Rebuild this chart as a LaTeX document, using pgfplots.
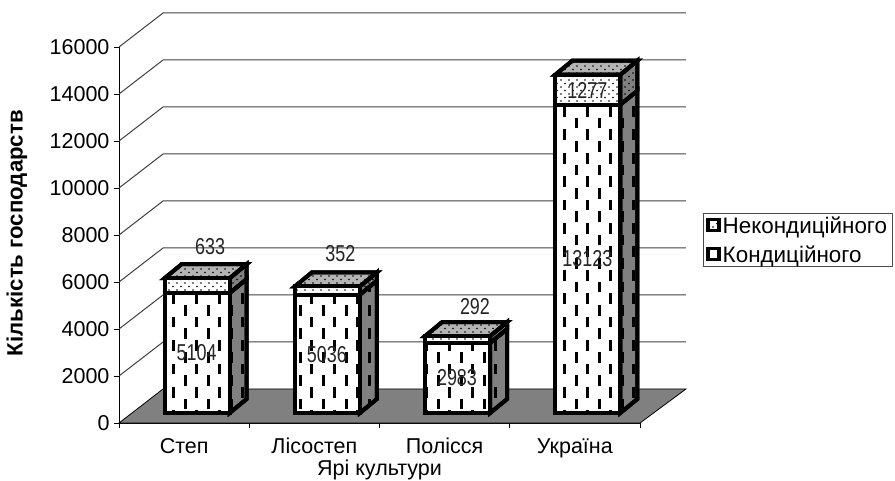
\documentclass[border=0pt]{standalone}
\usepackage{fontspec}
\usepackage{pgfplots}
\pgfplotsset{compat=1.18}
\usetikzlibrary{patterns}
\setmainfont{Liberation Sans}
\newfontfamily\narrowf[FakeStretch=0.78]{Liberation Sans}
\pgfdeclarepatternformonly{dashfront}{\pgfqpoint{-2pt}{-1pt}}{\pgfqpoint{24pt}{24pt}}{\pgfqpoint{23pt}{23.4pt}}{
  \pgfsetlinewidth{3pt}
  \pgfpathmoveto{\pgfqpoint{1pt}{0.5pt}}\pgfpathlineto{\pgfqpoint{1pt}{11.2pt}}
  \pgfpathmoveto{\pgfqpoint{12.5pt}{12.2pt}}\pgfpathlineto{\pgfqpoint{12.5pt}{22.9pt}}
  \pgfusepath{stroke}}
\pgfdeclarepatternformonly{dotsp}{\pgfqpoint{-1pt}{-1pt}}{\pgfqpoint{9pt}{9pt}}{\pgfqpoint{8pt}{7pt}}{
  \pgfpathcircle{\pgfqpoint{1pt}{1pt}}{0.8pt}
  \pgfpathcircle{\pgfqpoint{5pt}{4.5pt}}{0.8pt}
  \pgfusepath{fill}}
\definecolor{fl}{HTML}{808080}
\definecolor{tp}{HTML}{B4B4B4}
\newcommand\fs{\fontsize{21.5}{25}\selectfont}
\begin{document}
\begin{tikzpicture}
\path[use as bounding box] (0,0) rectangle (895pt,480pt);
\begin{axis}[
  at={(119pt,57pt)}, anchor=origin, scale only axis, width=521pt, height=376pt,
  xmin=0, xmax=4, ymin=0, ymax=16000, clip=false,
  axis x line=bottom, axis y line=left, axis line style={-,black,line width=0.8pt},
  xtick={0,1,2,3,4}, xticklabels={,,,,},
  extra x ticks={0.5,1.5,2.5,3.5},
  extra x tick labels={Степ,Лісостеп,Полісся,Україна},
  extra x tick style={major tick length=0pt, tick style={draw=none}},
  ytick={0,2000,...,16000}, scaled y ticks=false,
  tick align=outside, major tick length=5pt,
  tick style={black,line width=0.8pt},
  /pgf/number format/assume math mode=true,
  /pgf/number format/1000 sep={},
  tick label style={font=\fs},
  xticklabel style={yshift=-11pt, text height=15.5pt, text depth=4.5pt},
  yticklabel style={xshift=-1pt},
  xlabel={Ярі культури}, xlabel style={font=\fs, at={(axis description cs:0.5,0)}, anchor=north, yshift=-37pt, inner sep=0pt},
  ylabel={\textbf{Кількість господарств}}, ylabel style={font=\fontsize{22.2}{26}\selectfont, at={(axis description cs:-0.196,0.505)}, anchor=center, inner sep=0pt},
  legend style={at={(1.121,0.4867)}, anchor=west, draw=black!70, font=\fontsize{22.4}{26}\selectfont, inner xsep=3pt, inner ysep=1pt, row sep=7pt, cells={anchor=west}},
  legend cell align=left,
]
% floor
\addplot[fill=fl, draw=black, line width=0.8pt, forget plot] coordinates {(0,0)(4,0)(4.353,1447)(0.338,1447)} -- cycle;
% walls and gridlines
\addplot[black!75, line width=1pt, forget plot] coordinates {(0,2000)(0.338,3447)(4.353,3447)};
\addplot[black!75, line width=1pt, forget plot] coordinates {(0,4000)(0.338,5447)(4.353,5447)};
\addplot[black!75, line width=1pt, forget plot] coordinates {(0,6000)(0.338,7447)(4.353,7447)};
\addplot[black!75, line width=1pt, forget plot] coordinates {(0,8000)(0.338,9447)(4.353,9447)};
\addplot[black!75, line width=1pt, forget plot] coordinates {(0,10000)(0.338,11447)(4.353,11447)};
\addplot[black!75, line width=1pt, forget plot] coordinates {(0,12000)(0.338,13447)(4.353,13447)};
\addplot[black!75, line width=1pt, forget plot] coordinates {(0,14000)(0.338,15447)(4.353,15447)};
\addplot[black!75, line width=1pt, forget plot] coordinates {(0,16000)(0.338,17447)(4.353,17447)};
% sides, lower
\pgfplotsset{
  sidelow/.style={forget plot, draw=black, line width=4pt, line join=miter, preaction={fill=fl}, pattern=dashfront},
  sideup/.style={forget plot, draw=black, line width=4pt, line join=miter, preaction={fill=fl}, pattern=dotsp},
  topf/.style={forget plot, draw=black, line width=4pt, line join=miter, preaction={fill=tp}, pattern=dotsp},
}
\addplot[sidelow] coordinates {(0.849,425.5)(0.98,1021.5)(0.98,6125.5)(0.849,5529.5)} -- cycle;
\addplot[sideup] coordinates {(0.849,5529.5)(0.98,6125.5)(0.98,6758.5)(0.849,6162.5)} -- cycle;
\addplot[topf] coordinates {(0.3505,6162.5)(0.849,6162.5)(0.98,6758.5)(0.481,6758.5)} -- cycle;
\addplot[sidelow] coordinates {(1.849,425.5)(1.98,1021.5)(1.98,6057.5)(1.849,5461.5)} -- cycle;
\addplot[sideup] coordinates {(1.849,5461.5)(1.98,6057.5)(1.98,6409.5)(1.849,5813.5)} -- cycle;
\addplot[topf] coordinates {(1.3505,5813.5)(1.849,5813.5)(1.98,6409.5)(1.481,6409.5)} -- cycle;
\addplot[sidelow] coordinates {(2.849,425.5)(2.98,1021.5)(2.98,4004.5)(2.849,3408.5)} -- cycle;
\addplot[sideup] coordinates {(2.849,3408.5)(2.98,4004.5)(2.98,4296.5)(2.849,3700.5)} -- cycle;
\addplot[topf] coordinates {(2.3505,3700.5)(2.849,3700.5)(2.98,4296.5)(2.481,4296.5)} -- cycle;
\addplot[sidelow] coordinates {(3.849,425.5)(3.98,1021.5)(3.98,14144.5)(3.849,13548.5)} -- cycle;
\addplot[sideup] coordinates {(3.849,13548.5)(3.98,14144.5)(3.98,15421.5)(3.849,14825.5)} -- cycle;
\addplot[topf] coordinates {(3.3505,14825.5)(3.849,14825.5)(3.98,15421.5)(3.481,15421.5)} -- cycle;
% legend
\addlegendimage{area legend, legend image code/.code={\draw[black,line width=3.5pt,preaction={fill=white},pattern=dotsp] (0.5pt,-5pt) rectangle (11.5pt,6pt);}}
\addlegendentry{Некондиційного}
\addlegendimage{area legend, legend image code/.code={\draw[black,line width=3.5pt,fill=white] (0.5pt,-5pt) rectangle (11.5pt,6pt);}}
\addlegendentry{Кондиційного}
\end{axis}
\begin{axis}[
  at={(119pt,67pt)}, anchor=origin, scale only axis, width=521pt, height=376pt,
  xmin=0, xmax=4, ymin=0, ymax=16000, clip=false, hide axis,
  ybar stacked, bar width=65pt, bar shift=13pt,
]
\addplot[draw=black, line width=4pt, line join=miter, preaction={fill=white}, pattern=dashfront]
  coordinates {(0.5,5104)(1.5,5036)(2.5,2983)(3.5,13123)};
\addplot[draw=black, line width=4pt, line join=miter, preaction={fill=white}, pattern=dotsp]
  coordinates {(0.5,633)(1.5,352)(2.5,292)(3.5,1277)};
\end{axis}
\begin{axis}[
  at={(119pt,57pt)}, anchor=origin, scale only axis, width=521pt, height=376pt,
  xmin=0, xmax=4, ymin=0, ymax=16000, clip=false, hide axis,
]
\addplot[only marks, mark=none, point meta=explicit symbolic,
  nodes near coords, nodes near coords align={center},
  nodes near coords style={font=\narrowf\fontsize{23}{26}\selectfont, text=black!85, inner sep=0pt, anchor=center}]
  table[meta=l] {
x y l
0.7000 7490 633
0.5960 2980 5104
1.7000 7230 352
1.5960 2900 5036
2.7330 4936 292
2.5950 1915 2983
3.5960 14150 1277
3.5960 7000 13123
};
\end{axis}
\end{tikzpicture}
\end{document}
